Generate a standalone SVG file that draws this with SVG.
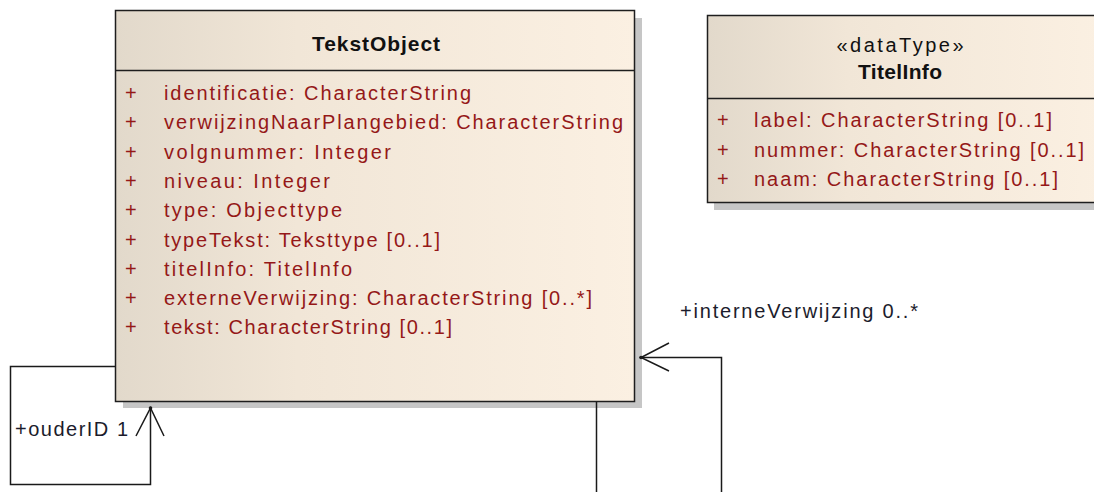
<svg xmlns="http://www.w3.org/2000/svg" width="1094" height="492" viewBox="0 0 1094 492">
<style>
.box{stroke:#1e1e1e;stroke-width:1.5;fill:url(#g)}
.shadow{fill:#c6c6c6}
.sep{stroke:#1e1e1e;stroke-width:1.5}
.title{font-family:"Liberation Sans",Arial,sans-serif;font-size:21px;font-weight:bold;fill:#111;text-anchor:middle}
.stereo{font-family:"Liberation Sans",Arial,sans-serif;font-size:20px;fill:#111;text-anchor:middle}
.attr{font-family:"Liberation Sans",Arial,sans-serif;font-size:20px;fill:#951818}
.lbl{font-family:"Liberation Sans",Arial,sans-serif;font-size:20px;fill:#1c1c2c}
.conn{fill:none;stroke:#1a1a1a;stroke-width:1.5}
</style>
<defs>
<linearGradient id="g" x1="0" y1="0" x2="1" y2="0">
<stop offset="0" stop-color="#e2d9cb"/>
<stop offset="0.35" stop-color="#f1e6d7"/>
<stop offset="1" stop-color="#fbf0e2"/>
</linearGradient>
</defs>
<rect width="1094" height="492" fill="#ffffff"/>
<g id="TekstObject">
<rect class="shadow" x="123" y="18" width="519" height="390"/>
<rect class="box" x="115.5" y="10.5" width="519" height="391"/>
<line class="sep" x1="115.5" y1="70.5" x2="634.5" y2="70.5"/>
<text class="title" x="376" y="51" textLength="128" lengthAdjust="spacing">TekstObject</text>
<g class="attr">
<text x="125" y="100">+</text><text x="164" y="100" textLength="307" lengthAdjust="spacing">identificatie: CharacterString</text>
<text x="125" y="129">+</text><text x="164" y="129" textLength="459" lengthAdjust="spacing">verwijzingNaarPlangebied: CharacterString</text>
<text x="125" y="158.5">+</text><text x="164" y="158.5" textLength="227" lengthAdjust="spacing">volgnummer: Integer</text>
<text x="125" y="188">+</text><text x="164" y="188" textLength="166" lengthAdjust="spacing">niveau: Integer</text>
<text x="125" y="217">+</text><text x="164" y="217" textLength="178" lengthAdjust="spacing">type: Objecttype</text>
<text x="125" y="246.5">+</text><text x="164" y="246.5" textLength="276" lengthAdjust="spacing">typeTekst: Teksttype [0..1]</text>
<text x="125" y="275.5">+</text><text x="164" y="275.5" textLength="188" lengthAdjust="spacing">titelInfo: TitelInfo</text>
<text x="125" y="305">+</text><text x="164" y="305" textLength="428" lengthAdjust="spacing">externeVerwijzing: CharacterString [0..*]</text>
<text x="125" y="334">+</text><text x="164" y="334" textLength="288" lengthAdjust="spacing">tekst: CharacterString [0..1]</text>
</g>
</g>
<g id="TitelInfo">
<rect class="shadow" x="714" y="23" width="400" height="187"/>
<rect class="box" x="707.5" y="15.5" width="400" height="187"/>
<line class="sep" x1="707.5" y1="98.5" x2="1107.5" y2="98.5"/>
<text class="stereo" x="900" y="52" textLength="127" lengthAdjust="spacing">«dataType»</text>
<text class="title" x="900" y="79" textLength="84" lengthAdjust="spacing">TitelInfo</text>
<g class="attr">
<text x="717" y="127">+</text><text x="754" y="127" textLength="298" lengthAdjust="spacing">label: CharacterString [0..1]</text>
<text x="717" y="156.5">+</text><text x="754" y="156.5" textLength="330" lengthAdjust="spacing">nummer: CharacterString [0..1]</text>
<text x="717" y="186">+</text><text x="754" y="186" textLength="304" lengthAdjust="spacing">naam: CharacterString [0..1]</text>
</g>
</g>
<g id="connectors">
<path class="conn" d="M115.5 366.5 H10.5 V484.5 H150.5 V408"/>
<path class="conn" d="M136 436 L150.5 408 L164 436"/>
<circle cx="150.5" cy="408" r="1.8" fill="#1a1a1a"/>
<text class="lbl" x="15" y="436" textLength="113" lengthAdjust="spacing">+ouderID 1</text>
<path class="conn" d="M596.5 402 V492"/>
<path class="conn" d="M721.5 492 V357.5 H641"/>
<path class="conn" d="M669 343 L641 357.5 L669 371"/>
<circle cx="641" cy="357.5" r="1.8" fill="#1a1a1a"/>
<text class="lbl" x="680" y="318" textLength="238" lengthAdjust="spacing">+interneVerwijzing 0..*</text>
</g>
</svg>
